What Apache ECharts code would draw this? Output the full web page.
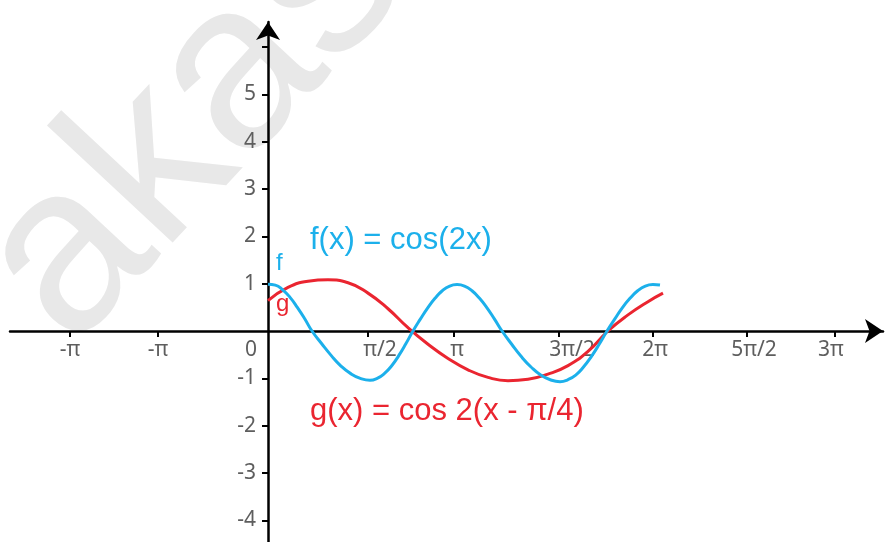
<!DOCTYPE html>
<html>
<head>
<meta charset="utf-8">
<script src="https://cdn.jsdelivr.net/npm/echarts@6/dist/echarts.min.js"></script>
<style>
  html, body { margin: 0; padding: 0; background: #ffffff; }
  #chart { width: 893px; height: 542px; }
</style>
</head>
<body>
<div id="chart"></div>
<script>
// f(x) = cos(2x), sampled points (x in radians)
const fX = [0,
  0.121, 0.244, 0.366, 0.487, 0.610, 0.731,
  0.893, 1.052, 1.213, 1.375, 1.534, 1.695,
  1.815, 1.933, 2.053, 2.173, 2.291, 2.410,
  2.532, 2.655, 2.776, 2.897, 3.020, 3.142,
  3.266, 3.391, 3.516, 3.640, 3.765, 3.890,
  4.051, 4.210, 4.372, 4.533, 4.692, 4.854,
  4.983, 5.115, 5.244, 5.374, 5.505, 5.635,
  5.763, 5.889, 6.017, 6.145, 6.272, 6.399,
  6.516];
const fY = [0.99,
  0.97, 0.87, 0.71, 0.50, 0.26, 0,
  -0.27, -0.52, -0.74, -0.90, -1.00, -1.04,
  -1.00, -0.90, -0.74, -0.52, -0.27, 0,
  0.25, 0.49, 0.69, 0.85, 0.95, 0.98,
  0.95, 0.85, 0.69, 0.49, 0.25, 0,
  -0.28, -0.54, -0.76, -0.93, -1.03, -1.07,
  -1.03, -0.93, -0.76, -0.54, -0.28, 0,
  0.25, 0.49, 0.69, 0.85, 0.95, 0.98,
  0.97];

// g(x) = cos 2(x - π/4), sampled points (x in radians)
const gX = [0, 0.332, 0.665, 0.997, 1.330, 1.662, 1.995, 2.327, 2.660, 2.992, 3.324, 3.657, 3.989, 4.322, 4.654, 4.987, 5.319, 5.651, 5.984, 6.316, 6.566];
const gY = [0.64, 0.92, 1.05, 1.08, 1.02, 0.80, 0.47, 0.07, -0.28, -0.58, -0.82, -0.98, -1.05, -1.02, -0.91, -0.73, -0.43, 0, 0.34, 0.62, 0.80];

// x axis: tick marks and labels (values in radians)
const xTickValues = [-3.291, -1.828, 1.662, 3.092, 4.837, 6.400, 7.962, 9.425];
const xLabelValues = [-3.291, -1.828, 0, 1.862, 3.142, 5.053, 6.433, 8.078, 9.358];
const xLabelTexts = ['-π', '-π', '0', 'π/2', 'π', '3π/2', '2π', '5π/2', '3π'];

// y axis: tick marks and labels
const yTickValues = [-4, -3, -2, -1, 1, 2, 3, 4, 5, 6];
const yLabelValues = [-4, -3, -2, -1, 1, 2, 3, 4, 5];

const BLUE = '#1cb0eb';
const RED = '#ea2530';
const LABEL_GRAY = '#5e5e5e';

// plot area in pixels
const GRID = { left: 10, right: 10, top: 22, bottom: 0 };
const X_MIN = -4.289, X_MAX = 10.223;
const Y_MIN = -4.456, Y_MAX = 6.526;
const W = 893, H = 542;

// both axes cross at the origin: shift them inward from the grid edges
const plotW = W - GRID.left - GRID.right;
const plotH = H - GRID.top - GRID.bottom;
const yAxisShift = -((0 - X_MIN) / (X_MAX - X_MIN)) * plotW;
const xAxisShift = -((0 - Y_MIN) / (Y_MAX - Y_MIN)) * plotH;

function pairs(xs, ys) {
  return xs.map((x, i) => [x, ys[i]]);
}

function xLabelText(v) {
  let best = 0;
  for (let i = 1; i < xLabelValues.length; i++) {
    if (Math.abs(xLabelValues[i] - v) < Math.abs(xLabelValues[best] - v)) best = i;
  }
  const t = xLabelTexts[best];
  return xLabelValues[best] === 0 ? '{o|' + t + '}' : t;
}

const chart = echarts.init(document.getElementById('chart'), null, { renderer: 'canvas' });

chart.setOption({
  animation: false,
  backgroundColor: '#ffffff',
  grid: Object.assign({ containLabel: false, outerBoundsMode: 'none' }, GRID),
  xAxis: {
    type: 'value',
    position: 'bottom',
    offset: xAxisShift,
    min: X_MIN,
    max: X_MAX,
    splitLine: { show: false },
    axisLine: {
      onZero: false,
      symbol: ['none', 'arrow'],
      symbolSize: [18, 18],
      lineStyle: { color: '#000000', width: 2.5 }
    },
    axisTick: {
      customValues: xTickValues,
      length: 6,
      lineStyle: { color: '#000000', width: 2 }
    },
    axisLabel: {
      customValues: xLabelValues,
      margin: 9,
      color: LABEL_GRAY,
      fontFamily: 'Noto Sans',
      fontSize: 21,
      formatter: xLabelText,
      rich: {
        o: { color: LABEL_GRAY, fontFamily: 'Noto Sans', fontSize: 21, padding: [0, 34, 0, 0] }
      }
    }
  },
  yAxis: {
    type: 'value',
    position: 'left',
    offset: yAxisShift,
    min: Y_MIN,
    max: Y_MAX,
    splitLine: { show: false },
    axisLine: {
      onZero: false,
      symbol: ['none', 'arrow'],
      symbolSize: [18, 18],
      lineStyle: { color: '#000000', width: 2.5 }
    },
    axisTick: {
      customValues: yTickValues,
      length: 6,
      lineStyle: { color: '#000000', width: 2 }
    },
    axisLabel: {
      customValues: yLabelValues,
      margin: 12,
      color: LABEL_GRAY,
      fontFamily: 'Noto Sans',
      fontSize: 21,
      formatter: v => String(v)
    }
  },
  graphic: [
    {
      type: 'text',
      x: 24,
      y: 306,
      rotation: 47 * Math.PI / 180,
      z: -10,
      silent: true,
      style: {
        text: 'akas',
        fontSize: 237,
        fontFamily: 'Liberation Sans',
        fill: '#e8e8e8',
        align: 'left',
        verticalAlign: 'middle'
      }
    },
    {
      type: 'text', x: 310, y: 240, z: 10,
      style: { text: 'f(x) = cos(2x)', fontSize: 31, fontFamily: 'Liberation Sans', fill: BLUE, align: 'left', verticalAlign: 'middle' }
    },
    {
      type: 'text', x: 310, y: 411, z: 10,
      style: { text: 'g(x) = cos 2(x - π/4)', fontSize: 31, fontFamily: 'Liberation Sans', fill: RED, align: 'left', verticalAlign: 'middle' }
    },
    {
      type: 'text', x: 276, y: 263, z: 10,
      style: { text: 'f', fontSize: 24, fontFamily: 'Liberation Sans', fill: BLUE, align: 'left', verticalAlign: 'middle' }
    },
    {
      type: 'text', x: 276, y: 304, z: 10,
      style: { text: 'g', fontSize: 24, fontFamily: 'Liberation Sans', fill: RED, align: 'left', verticalAlign: 'middle' }
    }
  ],
  series: [
    {
      name: 'g',
      type: 'line',
      data: pairs(gX, gY),
      smooth: true,
      showSymbol: false,
      lineStyle: { color: RED, width: 3 },
      itemStyle: { color: RED },
      z: 3
    },
    {
      name: 'f',
      type: 'line',
      data: pairs(fX, fY),
      smooth: true,
      showSymbol: false,
      lineStyle: { color: BLUE, width: 3 },
      itemStyle: { color: BLUE },
      z: 4
    }
  ]
});
</script>
</body>
</html>
